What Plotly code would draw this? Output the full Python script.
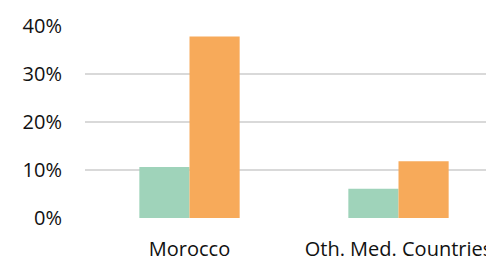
import plotly.graph_objects as go

categories = ["Morocco", "Oth. Med. Countries"]
series_a = [0.106, 0.061]
series_b = [0.378, 0.118]
y_ticks = [0, 0.1, 0.2, 0.3, 0.4]
y_tick_labels = ["0%", "10%", "20%", "30%", "40%"]

FONT = "Open Sans"

fig = go.Figure()
fig.add_trace(go.Bar(x=categories, y=series_a, marker=dict(color="#9FD3BA", line=dict(width=0)), showlegend=False))
fig.add_trace(go.Bar(x=categories, y=series_b, marker=dict(color="#F7AA5A", line=dict(width=0)), showlegend=False))

fig.update_layout(
    width=495, height=254,
    margin=dict(l=77, r=0, t=18, b=41, pad=0),
    paper_bgcolor="white", plot_bgcolor="white",
    barmode="group", bargap=0.52, bargroupgap=0,
    font=dict(family=FONT, size=20, color="#111111"),
    xaxis=dict(type="category", range=[-0.5, 1.5], showgrid=False, zeroline=False,
               showline=False, ticks="", ticklabelstandoff=17),
    yaxis=dict(range=[0, 0.4], tickvals=y_ticks, ticktext=y_tick_labels,
               showgrid=True, gridcolor="#D9D9D9", gridwidth=1.5,
               zeroline=False, showline=False, ticks="", ticklabelstandoff=22),
)

fig.write_html("out.html")
